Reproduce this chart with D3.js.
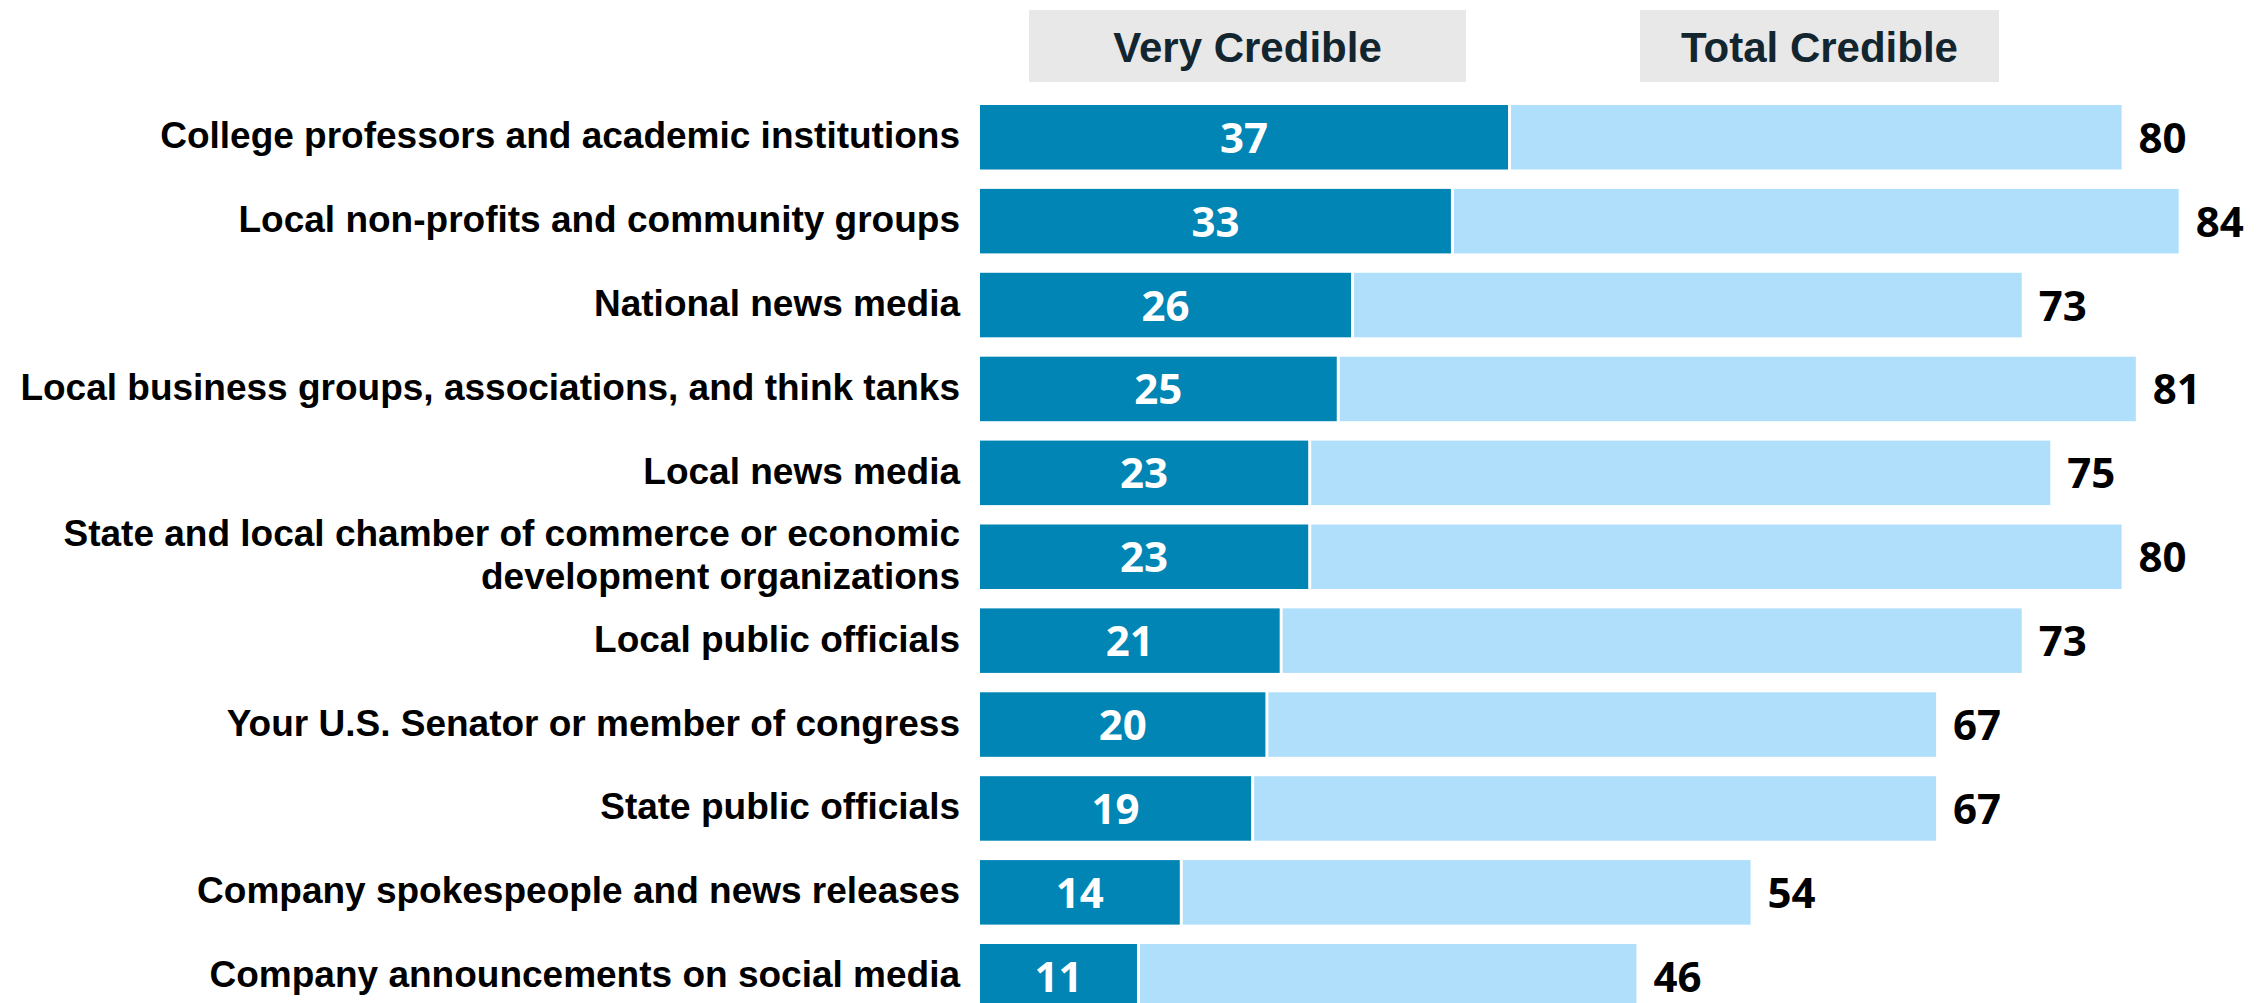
<!DOCTYPE html>
<html>
<head>
<meta charset="utf-8">
<script src="https://cdn.jsdelivr.net/npm/d3@7"></script>
<style>
  html, body { margin: 0; padding: 0; background: #ffffff; }
  svg { display: block; }
</style>
</head>
<body>
<svg id="chart" width="2256" height="1003"></svg>
<script>
// Credibility of information sources (%)
const categories = [
  "College professors and academic institutions",
  "Local non-profits and community groups",
  "National news media",
  "Local business groups, associations, and think tanks",
  "Local news media",
  "State and local chamber of commerce or economic development organizations",
  "Local public officials",
  "Your U.S. Senator or member of congress",
  "State public officials",
  "Company spokespeople and news releases",
  "Company announcements on social media"
];
const veryCredible  = [37, 33, 26, 25, 23, 23, 21, 20, 19, 14, 11];
const totalCredible = [80, 84, 73, 81, 75, 80, 73, 67, 67, 54, 46];
const seriesNames = ["Very Credible", "Total Credible"];

const rows = categories.map((c, i) => ({ name: c, very: veryCredible[i], total: totalCredible[i] }));

const svg = d3.select("#chart");

const LABEL_FONT = "'Liberation Sans', Arial, sans-serif";
const NUM_FONT = "'Open Sans', sans-serif";
const DARK = "#0085b5";
const LIGHT = "#b0dffc";

const x = d3.scaleLinear().domain([0, 100]).range([980, 2407]);
const y = d3.scaleBand()
  .domain(categories)
  .range([95.3, 1018.2])
  .paddingInner(0.231)
  .paddingOuter(0.1155);

// Column headers
const headers = [
  { text: seriesNames[0], x0: 1029, x1: 1466 },
  { text: seriesNames[1], x0: 1640, x1: 1999 }
];
const hdr = svg.append("g").selectAll("g").data(headers).join("g");
hdr.append("rect")
  .attr("x", d => d.x0).attr("y", 10)
  .attr("width", d => d.x1 - d.x0).attr("height", 72)
  .attr("fill", "#e8e8e8");
hdr.append("text")
  .attr("x", d => (d.x0 + d.x1) / 2).attr("y", 62)
  .attr("text-anchor", "middle")
  .attr("font-family", LABEL_FONT).attr("font-weight", "bold")
  .attr("font-size", 42).attr("fill", "#13262f")
  .text(d => d.text);

// Bars
const g = svg.append("g");
const row = g.selectAll("g.row").data(rows).join("g").attr("class", "row");

row.append("rect")
  .attr("x", d => x(d.very) + 3)
  .attr("y", d => y(d.name))
  .attr("width", d => x(d.total) - x(d.very) - 3)
  .attr("height", y.bandwidth())
  .attr("fill", LIGHT);

row.append("rect")
  .attr("x", x(0))
  .attr("y", d => y(d.name))
  .attr("width", d => x(d.very) - x(0))
  .attr("height", y.bandwidth())
  .attr("fill", DARK);

// Value labels
row.append("text")
  .attr("x", d => (x(0) + x(d.very)) / 2)
  .attr("y", d => y(d.name) + y.bandwidth() / 2 + 15.5)
  .attr("text-anchor", "middle")
  .attr("font-family", NUM_FONT).attr("font-weight", 700)
  .attr("font-size", 42).attr("fill", "#ffffff")
  .text(d => d.very);

row.append("text")
  .attr("x", d => x(d.total) + 17)
  .attr("y", d => y(d.name) + y.bandwidth() / 2 + 15.5)
  .attr("text-anchor", "start")
  .attr("font-family", NUM_FONT).attr("font-weight", 700)
  .attr("font-size", 42).attr("fill", "#000000")
  .text(d => d.total);

// Category labels, wrapped when wider than the label column
const MAX_W = 950;
const LINE_H = 43;
row.append("text")
  .attr("text-anchor", "end")
  .attr("font-family", LABEL_FONT).attr("font-weight", "bold")
  .attr("font-size", 37).attr("fill", "#000000")
  .each(function(d) {
    const t = d3.select(this);
    const words = d.name.split(" ");
    const lines = [];
    let cur = [];
    const probe = t.append("tspan");
    words.forEach(w => {
      const test = cur.concat([w]).join(" ");
      probe.text(test);
      if (probe.node().getComputedTextLength() > MAX_W && cur.length) {
        lines.push(cur.join(" "));
        cur = [w];
      } else {
        cur.push(w);
      }
    });
    lines.push(cur.join(" "));
    probe.remove();
    const cy = y(d.name) + y.bandwidth() / 2;
    const first = cy + 11 - (lines.length - 1) * LINE_H / 2;
    lines.forEach((ln, i) => {
      t.append("tspan").attr("x", 960).attr("y", first + i * LINE_H).text(ln);
    });
  });
</script>
</body>
</html>
